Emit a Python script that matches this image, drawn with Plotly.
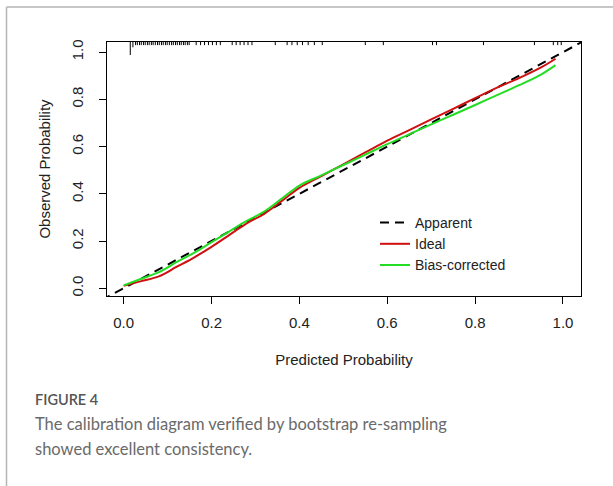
import plotly.graph_objects as go

# Calibration curves (predicted vs observed probability)
pred_x = [0.00, 0.04, 0.08, 0.12, 0.16, 0.20, 0.24, 0.28, 0.32, 0.36, 0.40, 0.45,
          0.50, 0.55, 0.60, 0.65, 0.70, 0.75, 0.80, 0.85, 0.90, 0.95, 0.983]
ideal_y = [0.010, 0.030, 0.050, 0.090, 0.130, 0.175, 0.225, 0.275, 0.315, 0.370, 0.425, 0.475,
           0.525, 0.575, 0.625, 0.670, 0.715, 0.760, 0.805, 0.850, 0.890, 0.935, 0.972]
bias_y = [0.012, 0.040, 0.068, 0.110, 0.150, 0.195, 0.240, 0.285, 0.325, 0.380, 0.435, 0.478,
          0.522, 0.566, 0.610, 0.652, 0.694, 0.735, 0.776, 0.818, 0.860, 0.905, 0.945]
diag_x = [-0.05, 1.06]

# Distribution of predicted probabilities (rug along the top axis)
rug_x = [0.015, 0.021, 0.027, 0.031, 0.036, 0.040, 0.045, 0.049, 0.054, 0.058, 0.063,
         0.067, 0.072, 0.077, 0.081, 0.086, 0.090, 0.095, 0.099, 0.104, 0.109, 0.113,
         0.118, 0.122, 0.127, 0.131, 0.136, 0.140, 0.145, 0.149, 0.165, 0.175, 0.184,
         0.193, 0.202, 0.211, 0.220, 0.247, 0.256, 0.265, 0.274, 0.283, 0.292, 0.345,
         0.372, 0.383, 0.395, 0.407, 0.420, 0.434, 0.452, 0.550, 0.591, 0.703, 0.712,
         0.819, 0.935, 0.978, 0.988, 0.996]
rug_n = [10, 3] + [1] * (len(rug_x) - 2)

x_range = [-0.038, 1.041]
y_range = [-0.033, 1.043]
plot_h_px = 253.4
per_px = (y_range[1] - y_range[0]) / plot_h_px

rx, ry = [], []
for xv, n in zip(rug_x, rug_n):
    h = (2.0 + 1.1 * n) * per_px
    rx += [xv, xv, None]
    ry += [y_range[1], y_range[1] - h, None]

FONT = "Liberation Sans, Arial, sans-serif"
CAP_FONT = "Lato, Open Sans, sans-serif"

fig = go.Figure()
fig.add_trace(go.Scatter(x=rx, y=ry, mode="lines", line=dict(color="black", width=1),
                         showlegend=False, hoverinfo="skip"))
fig.add_trace(go.Scatter(x=diag_x, y=diag_x, mode="lines", name="Apparent",
                         line=dict(color="black", width=2, dash="9px,6px")))
fig.add_trace(go.Scatter(x=pred_x, y=ideal_y, mode="lines", name="Ideal",
                         line=dict(color="#d01010", width=2, shape="spline")))
fig.add_trace(go.Scatter(x=pred_x, y=bias_y, mode="lines", name="Bias-corrected",
                         line=dict(color="#22dd22", width=2, shape="spline")))

axis_common = dict(showline=True, mirror=True, linecolor="black", linewidth=1,
                   ticks="outside", ticklen=7, tickcolor="black", tickwidth=1,
                   showgrid=False, zeroline=False, tickformat=".1f", dtick=0.2, tick0=0,
                   tickfont=dict(family=FONT, size=15, color="#222"))

fig.update_xaxes(range=x_range, ticklabelstandoff=6, **axis_common,
                 title=dict(text="Predicted Probability", standoff=24,
                            font=dict(family=FONT, size=15, color="#222")))
fig.update_yaxes(range=y_range, tickangle=-90, ticklabelstandoff=10, **axis_common,
                 title=dict(text="Observed Probability", standoff=14,
                            font=dict(family=FONT, size=15, color="#222")))

l, t, r, b = 107, 42, 32, 190
W, H = 613, 486
pw, ph = W - l - r, H - t - b


def px_x(px):
    return (px - l) / pw


def px_y(py):
    return (H - b - py) / ph


fig.update_layout(
    width=W, height=H, margin=dict(l=l, r=r, t=t, b=b),
    paper_bgcolor="white", plot_bgcolor="white",
    legend=dict(x=px_x(375), y=px_y(207), xanchor="left", yanchor="top",
                bgcolor="rgba(0,0,0,0)", font=dict(family=FONT, size=14, color="#222"),
                itemwidth=30),
    shapes=[
        dict(type="line", xref="paper", yref="paper", x0=px_x(6.5), x1=px_x(6.5),
             y0=px_y(7), y1=px_y(490), line=dict(color="#b5b5b5", width=1.5)),
        dict(type="line", xref="paper", yref="paper", x0=px_x(6.5), x1=px_x(620),
             y0=px_y(7), y1=px_y(7), line=dict(color="#b5b5b5", width=1.5)),
    ],
    annotations=[
        dict(text="FIGURE 4", xref="paper", yref="paper", x=px_x(33), y=px_y(399),
             xanchor="left", yanchor="middle", showarrow=False,
             font=dict(family=CAP_FONT, size=14.5, color="#555555", weight=600)),
        dict(text="The calibration diagram verified by bootstrap re-sampling",
             xref="paper", yref="paper", x=px_x(33), y=px_y(424),
             xanchor="left", yanchor="middle", showarrow=False,
             font=dict(family=CAP_FONT, size=16.5, color="#6a6a6a")),
        dict(text="showed excellent consistency.",
             xref="paper", yref="paper", x=px_x(33), y=px_y(449),
             xanchor="left", yanchor="middle", showarrow=False,
             font=dict(family=CAP_FONT, size=16.5, color="#6a6a6a")),
    ],
)

fig.write_html("out.html")
